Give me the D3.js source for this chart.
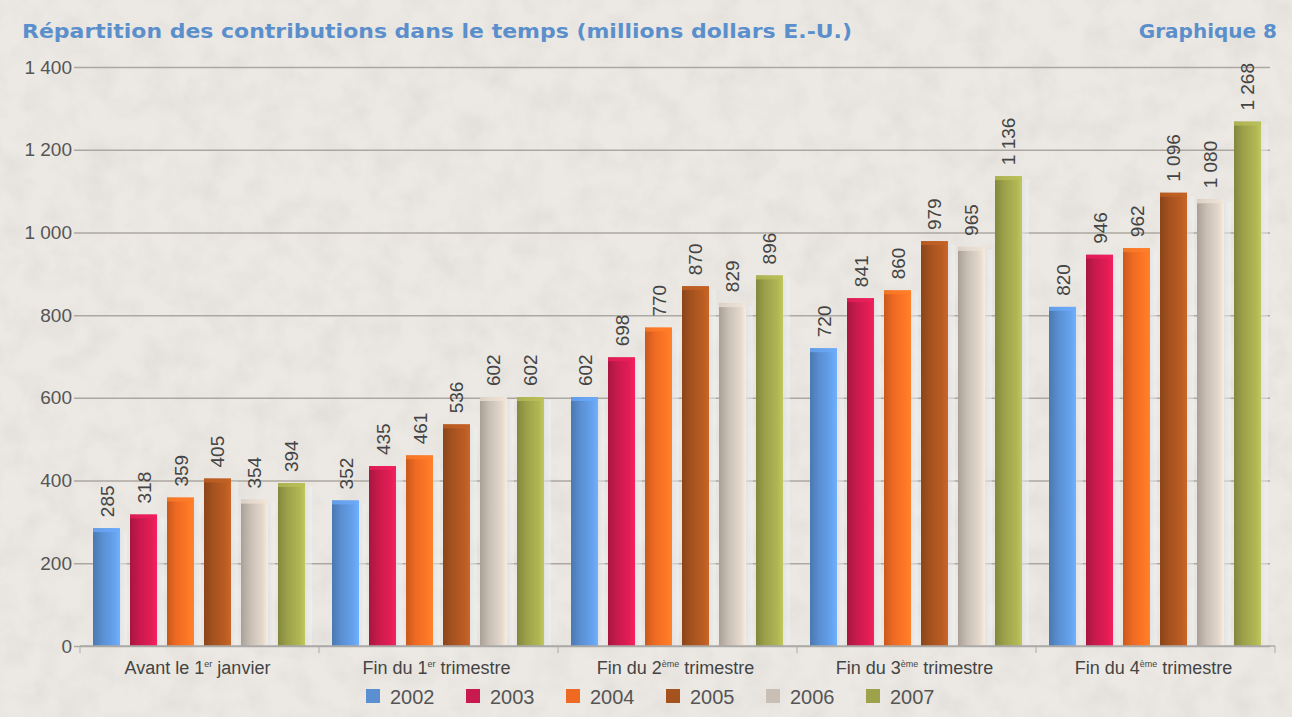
<!DOCTYPE html>
<html>
<head>
<meta charset="utf-8">
<script src="https://cdn.jsdelivr.net/npm/d3@7"></script>
<style>
  body { margin: 0; background: #ebe8e3; }
  svg { display: block; }
</style>
</head>
<body>
<svg width="1292" height="717"></svg>
<script>
const years = ["2002", "2003", "2004", "2005", "2006", "2007"];
const catStart = ["Avant le 1", "Fin du 1", "Fin du 2", "Fin du 3", "Fin du 4"];
const catSup = ["er", "er", "ème", "ème", "ème"];
const catEnd = [" janvier", " trimestre", " trimestre", " trimestre", " trimestre"];

const v2002 = [285, 352, 602, 720, 820];
const v2003 = [318, 435, 698, 841, 946];
const v2004 = [359, 461, 770, 860, 962];
const v2005 = [405, 536, 870, 979, 1096];
const v2006 = [354, 602, 829, 965, 1080];
const v2007 = [394, 602, 896, 1136, 1268];
const series = [v2002, v2003, v2004, v2005, v2006, v2007];

const yTicks = [0, 200, 400, 600, 800, 1000, 1200, 1400];
const colors = ["#5a8fd2", "#c81a4c", "#ee6a22", "#a5521f", "#c9bfb4", "#9ca14a"];

const fr = d3.formatLocale({decimal: ",", thousands: "\u00a0", grouping: [3], currency: ["", ""]});
const fmt = fr.format(",d");

const svg = d3.select("svg");
const defs = svg.append("defs");

// paper texture
const tex = defs.append("filter").attr("id", "paper").attr("x", 0).attr("y", 0).attr("width", "100%").attr("height", "100%");
tex.append("feTurbulence").attr("type", "fractalNoise").attr("baseFrequency", 0.035).attr("numOctaves", 4).attr("seed", 3).attr("result", "n");
tex.append("feColorMatrix").attr("type", "matrix")
  .attr("values", "0 0 0 0 0.55  0 0 0 0 0.53  0 0 0 0 0.5  0 0 0 -1.2 0.75");
svg.append("rect").attr("width", 1292).attr("height", 717).attr("fill", "#ece9e4");
svg.append("rect").attr("width", 1292).attr("height", 717).attr("filter", "url(#paper)").attr("opacity", 0.35);

colors.forEach((c, i) => {
  const g = defs.append("linearGradient").attr("id", "bar" + i).attr("x1", 0).attr("x2", 1).attr("y1", 0).attr("y2", 0);
  const base = d3.color(c);
  g.append("stop").attr("offset", 0).attr("stop-color", base.darker(0.5));
  g.append("stop").attr("offset", 0.35).attr("stop-color", base);
  g.append("stop").attr("offset", 0.8).attr("stop-color", base.brighter(0.35));
  g.append("stop").attr("offset", 1).attr("stop-color", base.brighter(0.6));
});
const sh = defs.append("linearGradient").attr("id", "shade").attr("x1", 0).attr("x2", 1).attr("y1", 0).attr("y2", 0);
sh.append("stop").attr("offset", 0).attr("stop-color", "#d2d5dc").attr("stop-opacity", 0.95);
sh.append("stop").attr("offset", 1).attr("stop-color", "#f6f6f6").attr("stop-opacity", 0.35);

const x0 = d3.scaleBand().domain(d3.range(catStart.length)).range([80, 1275]);
const x1 = d3.scaleBand().domain(years).range([13, 225]).paddingInner(0.27);
const y = d3.scaleLinear().domain([0, 1400]).range([646, 67]);

// title
svg.append("text").attr("x", 22).attr("y", 38)
  .attr("font-family", "'DejaVu Sans', sans-serif").attr("font-weight", "bold").attr("font-size", 20)
  .attr("fill", "#5b8fcc")
  .attr("textLength", 830).attr("lengthAdjust", "spacingAndGlyphs")
  .text("Répartition des contributions dans le temps (millions dollars E.-U.)");
svg.append("text").attr("x", 1277).attr("y", 38).attr("text-anchor", "end")
  .attr("font-family", "'DejaVu Sans', sans-serif").attr("font-weight", "bold").attr("font-size", 20)
  .attr("fill", "#5b8fcc")
  .text("Graphique 8");

// grid + y axis
const yAxis = d3.axisLeft(y).tickValues(yTicks).tickFormat(fmt).tickSize(-1190).tickPadding(8);
const ga = svg.append("g").attr("transform", "translate(80,0)").call(yAxis);
ga.select(".domain").remove();
ga.selectAll(".tick line").attr("stroke", "#aca7a1").attr("stroke-width", 1.5).attr("x1", -6);
ga.selectAll(".tick text").attr("font-family", "'Liberation Sans', Arial, sans-serif")
  .attr("font-size", 19).attr("fill", "#555").attr("x", -8);

// bars
const groups = svg.append("g").selectAll("g")
  .data(d3.range(catStart.length))
  .join("g")
  .attr("transform", i => `translate(${x0(i)},0)`);

const cells = groups.selectAll("g")
  .data(i => series.map((s, k) => ({k, v: s[i]})))
  .join("g")
  .attr("transform", d => `translate(${x1(years[d.k])},0)`);

cells.append("rect")
  .attr("x", x1.bandwidth() - 4)
  .attr("y", d => y(d.v) + 3)
  .attr("width", 11)
  .attr("height", d => y(0) - y(d.v) - 3)
  .attr("fill", "url(#shade)");

cells.append("rect")
  .attr("x", 0)
  .attr("y", d => y(d.v))
  .attr("width", x1.bandwidth())
  .attr("height", d => y(0) - y(d.v))
  .attr("fill", d => `url(#bar${d.k})`);

cells.append("rect")
  .attr("x", 0)
  .attr("y", d => y(d.v))
  .attr("width", x1.bandwidth())
  .attr("height", 4)
  .attr("fill", d => d3.color(colors[d.k]).brighter(0.5))
  .attr("opacity", 0.7);

cells.append("text")
  .attr("transform", d => `translate(${x1.bandwidth() / 2 + 7},${y(d.v) - 11}) rotate(-90)`)
  .attr("font-family", "'Liberation Sans', Arial, sans-serif")
  .attr("font-size", 19)
  .attr("fill", "#444")
  .text(d => fmt(d.v));

// x axis
const gx = svg.append("g");
gx.append("line").attr("x1", 80).attr("x2", 1275).attr("y1", y(0)).attr("y2", y(0))
  .attr("stroke", "#aaa").attr("stroke-width", 1.5);
gx.selectAll("line.tk")
  .data(d3.range(catStart.length + 1))
  .join("line")
  .attr("class", "tk")
  .attr("x1", i => i < catStart.length ? x0(i) : x0.range()[1])
  .attr("x2", i => i < catStart.length ? x0(i) : x0.range()[1])
  .attr("y1", y(0)).attr("y2", y(0) + 7)
  .attr("stroke", "#aaa");

const lab = gx.selectAll("text.cat")
  .data(d3.range(catStart.length))
  .join("text")
  .attr("class", "cat")
  .attr("x", i => x0(i) + x0.bandwidth() / 2 - 2)
  .attr("y", 674)
  .attr("text-anchor", "middle")
  .attr("font-family", "'Liberation Sans', Arial, sans-serif")
  .attr("font-size", 18)
  .attr("fill", "#444");
lab.append("tspan").text(i => catStart[i]);
lab.append("tspan").attr("dy", -7).attr("font-size", 9).text(i => catSup[i]);
lab.append("tspan").attr("dy", 7).text(i => catEnd[i]);

// legend
const leg = svg.append("g").selectAll("g")
  .data(years)
  .join("g")
  .attr("transform", (d, i) => `translate(${366 + i * 100},689)`);
leg.append("rect").attr("width", 14).attr("height", 14).attr("fill", (d, i) => colors[i]);
leg.append("text").attr("x", 24).attr("y", 15)
  .attr("font-family", "'Liberation Sans', Arial, sans-serif")
  .attr("font-size", 20).attr("fill", "#555")
  .text(d => d);
</script>
</body>
</html>
